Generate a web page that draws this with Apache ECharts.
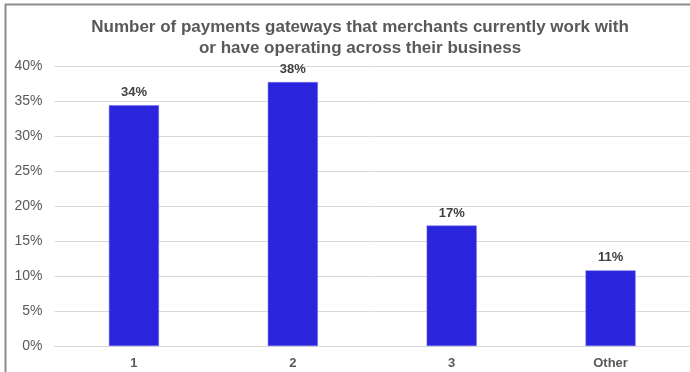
<!DOCTYPE html>
<html>
<head>
<meta charset="utf-8">
<script src="https://cdn.jsdelivr.net/npm/echarts@6/dist/echarts.min.js"></script>
<style>
html,body{margin:0;padding:0;background:#fff;}
#chart{width:690px;height:372px;}
</style>
</head>
<body>
<div id="chart"></div>
<script>
var titleLines = ['Number of payments gateways that merchants currently work with', 'or have operating across their business'];
var categories = ['1', '2', '3', 'Other'];
var values = [34.4, 37.7, 17.2, 10.8];
var valueLabels = ['34%', '38%', '17%', '11%'];
var yMin = 0, yMax = 40, yStep = 5;

var chart = echarts.init(document.getElementById('chart'));
chart.setOption({
  animation: false,
  backgroundColor: '#ffffff',
  title: {
    text: titleLines.join('\n'),
    left: 355,
    textAlign: 'center',
    top: 12,
    textStyle: {
      fontFamily: 'Liberation Sans, Arial, sans-serif',
      fontSize: 17,
      fontWeight: 'bold',
      color: '#595959',
      lineHeight: 21
    }
  },
  graphic: [{
    type: 'polyline',
    shape: { points: [[5.5, 372], [5.5, 4.5], [690, 4.5]] },
    style: { stroke: '#8c8c8c', lineWidth: 2, fill: null },
    silent: true
  }],
  grid: { left: 54.5, right: -2, top: 66, bottom: 26, containLabel: false },
  xAxis: {
    type: 'category',
    data: categories,
    axisLine: { show: true, lineStyle: { color: '#d9d9d9', width: 1 } },
    axisTick: { show: false },
    axisLabel: {
      margin: 11,
      fontFamily: 'Liberation Sans, Arial, sans-serif',
      fontSize: 13,
      fontWeight: 'bold',
      color: '#595959'
    }
  },
  yAxis: {
    type: 'value',
    min: yMin, max: yMax, interval: yStep,
    axisLine: { show: false },
    axisTick: { show: false },
    splitLine: { lineStyle: { color: '#d9d9d9', width: 1 } },
    axisLabel: {
      margin: 12,
      fontFamily: 'Liberation Sans, Arial, sans-serif',
      fontSize: 14,
      color: '#595959',
      formatter: function (v) { return v + '%'; }
    }
  },
  series: [{
    type: 'bar',
    data: values,
    barWidth: '31.5%',
    itemStyle: { color: '#2a25dd', borderColor: '#6f6be6', borderWidth: 0.5 },
    label: {
      show: true,
      position: 'top',
      distance: 6,
      fontFamily: 'Liberation Sans, Arial, sans-serif',
      fontSize: 13,
      fontWeight: 'bold',
      color: '#404040',
      formatter: function (p) { return valueLabels[p.dataIndex]; }
    }
  }]
});
</script>
</body>
</html>
